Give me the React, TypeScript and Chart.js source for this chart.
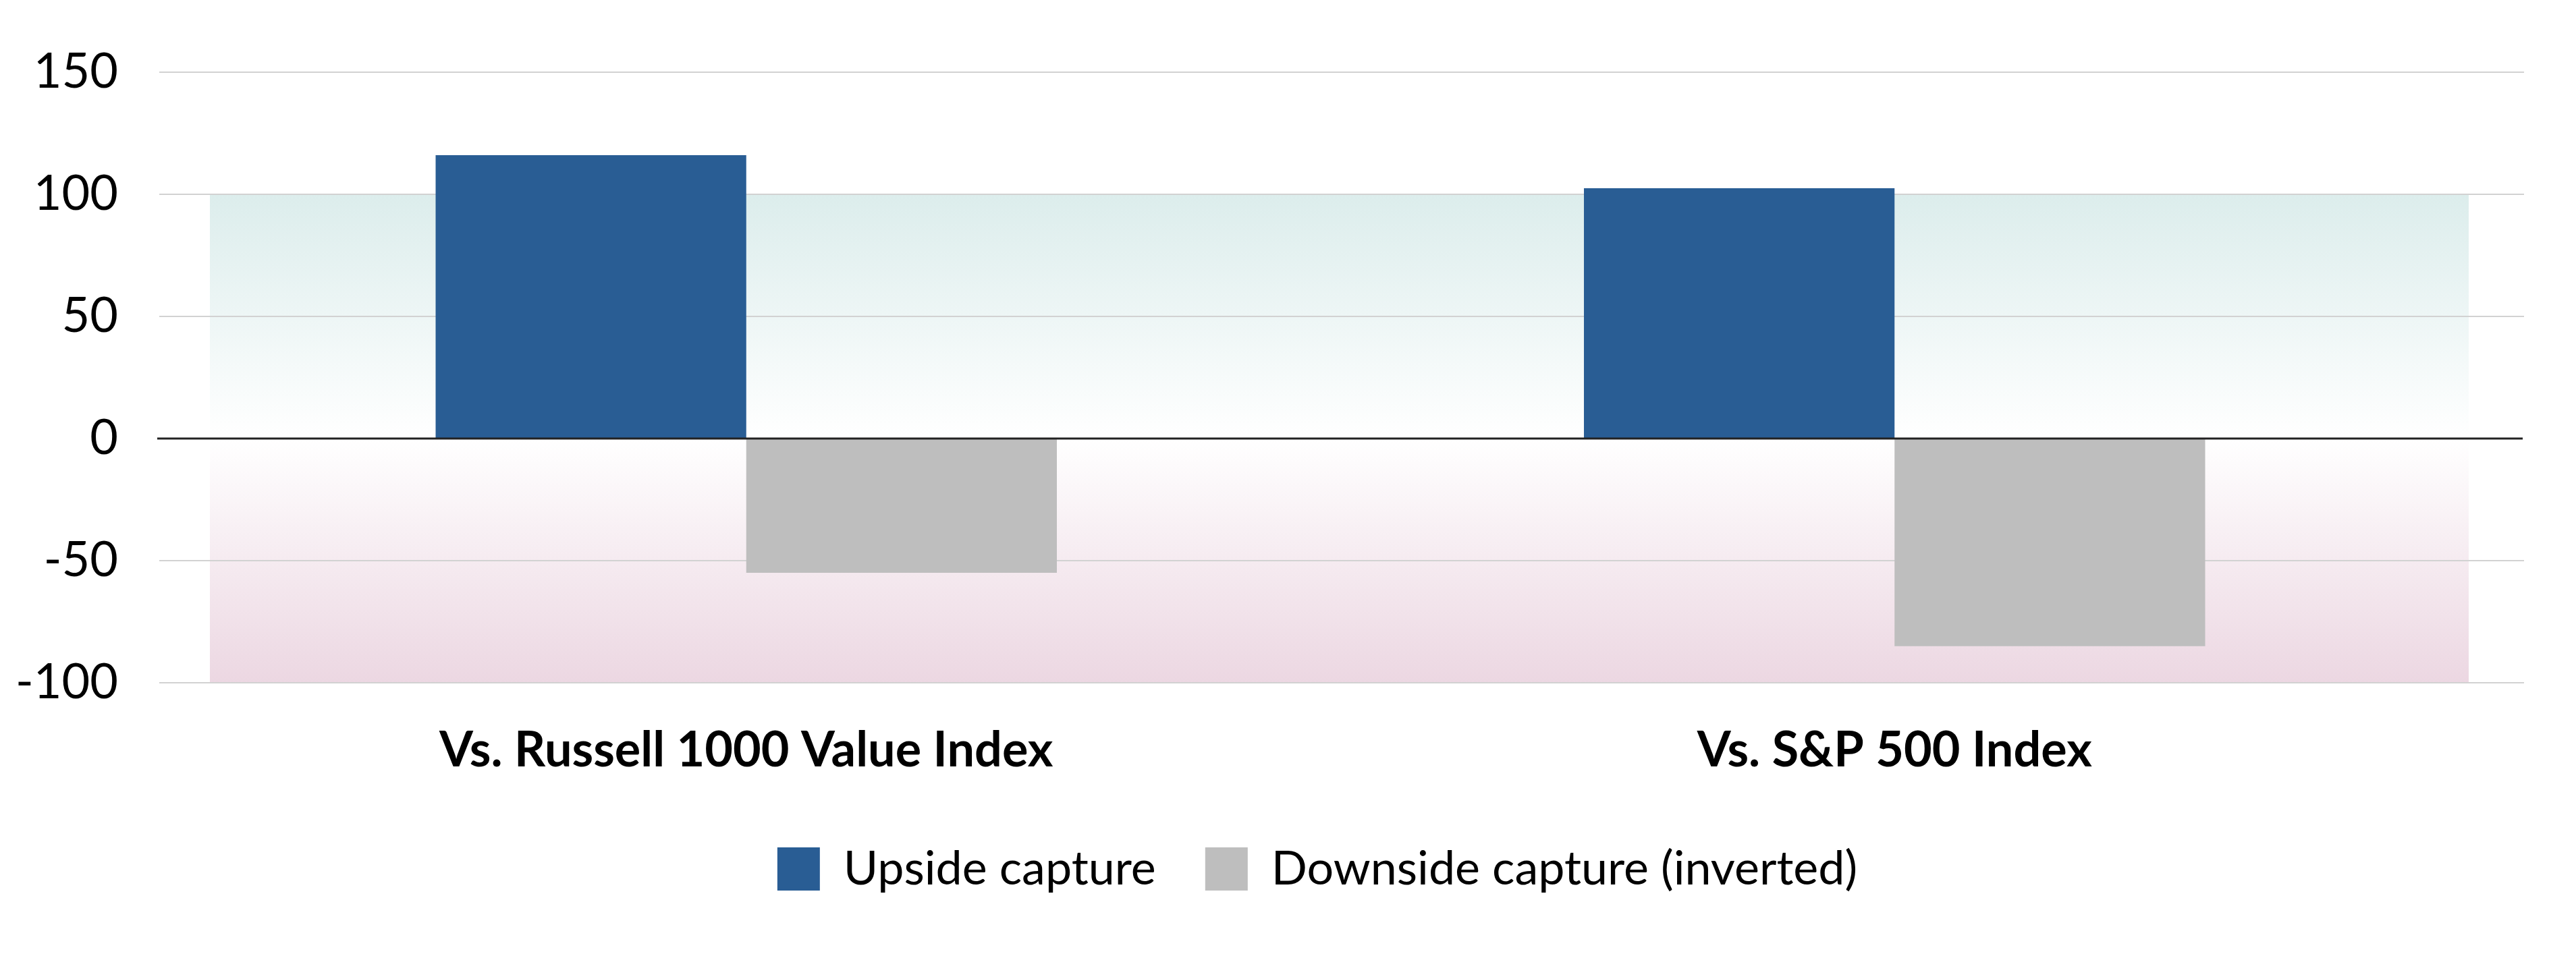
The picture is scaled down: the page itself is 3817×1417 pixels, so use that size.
import { useEffect, useRef } from 'react';
import { Chart, ChartConfiguration, Plugin, registerables } from 'chart.js';

Chart.register(...registerables);

const categories = ['Vs. Russell 1000 Value Index', 'Vs. S&P 500 Index'];
const upsideCapture = [116, 102.5];
const downsideCapture = [-55, -85];
const yTickValues = [-100, -50, 0, 50, 100, 150];
const upperBand = [0, 100];
const lowerBand = [-100, 0];

// shaded bands, gridlines and the zero line
const backdropPlugin: Plugin<'bar'> = {
  id: 'backdrop',
  afterLayout(chart) {
    // legend is centred a little right of the canvas middle
    if (chart.legend) chart.legend.left += 238;
  },
  beforeDatasetsDraw(chart) {
    const { ctx, chartArea, scales } = chart;
    const y = scales.y;
    const bandLeft = chartArea.left + 56;
    const bandWidth = chartArea.right - bandLeft;

    ctx.save();
    const upTop = y.getPixelForValue(upperBand[1]);
    const upBottom = y.getPixelForValue(upperBand[0]);
    let grad = ctx.createLinearGradient(0, upTop, 0, upBottom);
    grad.addColorStop(0, '#dcedec');
    grad.addColorStop(1, '#ffffff');
    ctx.fillStyle = grad;
    ctx.fillRect(bandLeft, upTop, bandWidth, upBottom - upTop);

    const lowTop = y.getPixelForValue(lowerBand[1]);
    const lowBottom = y.getPixelForValue(lowerBand[0]);
    grad = ctx.createLinearGradient(0, lowTop, 0, lowBottom);
    grad.addColorStop(0, '#ffffff');
    grad.addColorStop(1, '#ecd7e2');
    ctx.fillStyle = grad;
    ctx.fillRect(bandLeft, lowTop, bandWidth, lowBottom - lowTop);

    ctx.strokeStyle = '#d2d2d2';
    ctx.lineWidth = 2;
    yTickValues.forEach(v => {
      if (v === 0) return;
      const py = Math.round(y.getPixelForValue(v));
      ctx.beginPath();
      ctx.moveTo(chartArea.left - 19, py);
      ctx.lineTo(chartArea.right + 82, py);
      ctx.stroke();
    });
    ctx.restore();
  },
  afterDatasetsDraw(chart) {
    const { ctx, chartArea, scales } = chart;
    const py = Math.round(scales.y.getPixelForValue(0));
    ctx.save();
    ctx.strokeStyle = '#222222';
    ctx.lineWidth = 3;
    ctx.beginPath();
    ctx.moveTo(chartArea.left - 22, py);
    ctx.lineTo(chartArea.right + 80, py);
    ctx.stroke();
    ctx.restore();
  }
};

export default function App() {
  const chartRef = useRef<HTMLCanvasElement>(null);
  const chartInstance = useRef<Chart | null>(null);

  useEffect(() => {
    if (!chartRef.current) return;
    if (chartInstance.current) chartInstance.current.destroy();

    Chart.defaults.font.family = 'Lato';
    Chart.defaults.color = '#000000';

    const config: ChartConfiguration<'bar'> = {
      type: 'bar',
      data: {
        labels: categories,
        datasets: [
          {
            label: 'Upside capture',
            data: upsideCapture,
            backgroundColor: '#295d94',
            borderWidth: 0,
            categoryPercentage: 0.541,
            barPercentage: 1
          },
          {
            label: 'Downside capture (inverted)',
            data: downsideCapture,
            backgroundColor: '#bebebe',
            borderWidth: 0,
            categoryPercentage: 0.541,
            barPercentage: 1
          }
        ]
      },
      options: {
        animation: false,
        responsive: true,
        maintainAspectRatio: false,
        devicePixelRatio: 1,
        layout: {
          padding: { top: 99, left: 0, right: 151, bottom: 76 }
        },
        scales: {
          x: {
            grid: { display: false, drawTicks: false },
            border: { display: false },
            ticks: {
              padding: 58,
              maxRotation: 0,
              font: { size: 72, weight: 'bold' },
              color: '#000000'
            },
            afterFit: scale => {
              scale.height = 168;
            }
          },
          y: {
            min: -100,
            max: 150,
            // tick marks hidden, their length only sets the label gap
            grid: { display: false, drawTicks: true, tickLength: 78 },
            border: { display: false },
            afterBuildTicks: scale => {
              scale.ticks = yTickValues.map(v => ({ value: v }));
            },
            ticks: {
              padding: 2,
              font: { size: 72 },
              color: '#000000'
            },
            afterFit: scale => {
              scale.width = 247;
            }
          }
        },
        plugins: {
          legend: {
            position: 'bottom',
            labels: {
              boxWidth: 63,
              boxHeight: 64,
              padding: 73,
              font: { size: 70 },
              color: '#000000'
            }
          },
          tooltip: { enabled: false }
        }
      },
      plugins: [backdropPlugin]
    };

    chartInstance.current = new Chart(chartRef.current, config);

    return () => {
      if (chartInstance.current) {
        chartInstance.current.destroy();
        chartInstance.current = null;
      }
    };
  }, []);

  return (
    <div style={{ position: 'relative', height: '1401px' }}>
      <canvas ref={chartRef} />
    </div>
  );
}
